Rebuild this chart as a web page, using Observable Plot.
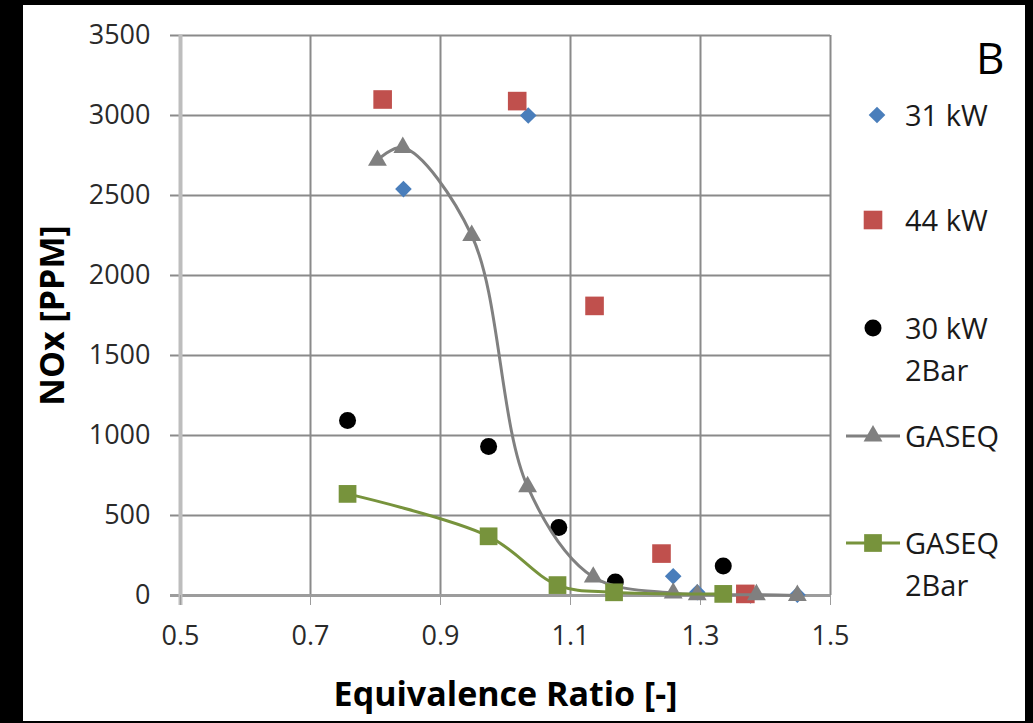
<!DOCTYPE html>
<html>
<head>
<meta charset="utf-8">
<script src="https://cdn.jsdelivr.net/npm/d3@7"></script>
<script src="https://cdn.jsdelivr.net/npm/@observablehq/plot@0.6"></script>
<style>
  html, body { margin: 0; padding: 0; background: #000; }
  #panel { position: absolute; left: 23px; top: 5px; width: 1002px; height: 716px; background: #fff; overflow: hidden; }
  #panel svg.chart { position: absolute; left: 0; top: 0; }
  .leg { position: absolute; font-family: "Open Sans", sans-serif; font-size: 29px; color: #1a1a1a; line-height: 42px; white-space: nowrap; }
  .sw { position: absolute; }
  #tag { position: absolute; font-family: "Open Sans", sans-serif; font-size: 44px; color: #000; line-height: 1; }
</style>
</head>
<body>
<div id="panel"></div>
<script>
// Axis ticks
const xTicks = [0.5, 0.7, 0.9, 1.1, 1.3, 1.5];
const yTicks = [0, 500, 1000, 1500, 2000, 2500, 3000, 3500];

// Measured NOx, 31 kW
const phi31 = [0.843, 1.035, 1.258, 1.295, 1.377, 1.449];
const nox31 = [2540, 3000, 120, 20, 0, 5];

// Measured NOx, 44 kW
const phi44 = [0.811, 1.018, 1.137, 1.240, 1.369];
const nox44 = [3100, 3090, 1810, 262, 10];

// Measured NOx, 30 kW at 2 bar
const phi30 = [0.757, 0.974, 1.082, 1.169, 1.335];
const nox30 = [1094, 931, 425, 85, 185];

// GASEQ equilibrium prediction
const phiGas = [0.803, 0.842, 0.948, 1.034, 1.135, 1.258, 1.295, 1.386, 1.449];
const noxGas = [2720, 2800, 2250, 680, 115, 15, 5, 5, 0];

// GASEQ equilibrium prediction at 2 bar
const phiGas2 = [0.757, 0.974, 1.080, 1.167, 1.335];
const noxGas2 = [635, 370, 65, 20, 10];

// Legend entries
const seriesNames = [["31 kW"], ["44 kW"], ["30 kW", "2Bar"], ["GASEQ"], ["GASEQ", "2Bar"]];
const seriesColors = ["#4a7ebb", "#c0504d", "#000000", "#808080", "#77933c"];

const table = (xs, ys) => xs.map((x, i) => ({phi: x, nox: ys[i]}));
const d31 = table(phi31, nox31);
const d44 = table(phi44, nox44);
const d30 = table(phi30, nox30);
const dGas = table(phiGas, noxGas);
const dGas2 = table(phiGas2, noxGas2);

const gridColor = "#8a8a8a";

const chart = Plot.plot({
  width: 1002,
  height: 716,
  marginLeft: 157,
  marginRight: 195,
  marginTop: 30,
  marginBottom: 126,
  style: {fontFamily: "Open Sans, sans-serif", fontSize: "27px", color: "#2a2a2a", background: "transparent"},
  x: {domain: [0.5, 1.5], label: "Equivalence Ratio [-]"},
  y: {domain: [0, 3500], label: "NOx [PPM]"},
  marks: [
    // grid
    Plot.ruleX(xTicks.slice(1), {stroke: gridColor, strokeWidth: 2}),
    Plot.ruleY(yTicks.slice(1), {stroke: gridColor, strokeWidth: 2, insetLeft: -10}),
    // axis lines
    Plot.ruleY([0], {stroke: "#9c9c9c", strokeWidth: 3, insetLeft: -10}),
    Plot.ruleX([0.5], {stroke: "#bdbdbd", strokeWidth: 4, insetBottom: -10}),
    Plot.axisX({ticks: xTicks, tickFormat: d => d.toFixed(1), tickSize: 10, tickPadding: 20, stroke: "#9c9c9c",
      labelAnchor: "center", labelOffset: 110, labelArrow: "none"}),
    Plot.axisY({ticks: yTicks, tickFormat: d => String(d), tickSize: 0, tickPadding: 30,
      labelAnchor: "center", labelOffset: 141, labelArrow: "none"}),
    // measurements
    Plot.dot(d31, {x: "phi", y: "nox", symbol: "diamond2", fill: seriesColors[0], stroke: "none", r: 7.5}),
    Plot.dot(d44, {x: "phi", y: "nox", symbol: "square", fill: seriesColors[1], stroke: "none", r: 10.5}),
    Plot.dot(d30, {x: "phi", y: "nox", symbol: "circle", fill: seriesColors[2], stroke: "none", r: 8.5}),
    // predictions
    Plot.line(dGas, {x: "phi", y: "nox", stroke: seriesColors[3], strokeWidth: 3, curve: "catmull-rom"}),
    Plot.dot(dGas, {x: "phi", y: "nox", symbol: "triangle", fill: seriesColors[3], stroke: "none", r: 7}),
    Plot.line(dGas2, {x: "phi", y: "nox", stroke: seriesColors[4], strokeWidth: 3, curve: "catmull-rom"}),
    Plot.dot(dGas2, {x: "phi", y: "nox", symbol: "square", fill: seriesColors[4], stroke: "none", r: 10})
  ]
});
chart.classList.add("chart");
const panel = document.getElementById("panel");
panel.appendChild(chart);

// Axis titles: bold, larger, no direction arrows
chart.querySelectorAll("g[aria-label='x-axis label'] text, g[aria-label='y-axis label'] text").forEach(t => {
  t.textContent = t.textContent.replace(/[\u2190-\u2193]/g, "").trim();
  t.setAttribute("font-weight", "bold");
  t.setAttribute("font-size", "34");
  t.setAttribute("fill", "#000");
});

// Legend on the right
const legTop = [110, 215, 323, 431, 538];
const swatchKinds = ["diamond2", "square", "circle", "triangle", "square"];
const swatchSizes = [7.5, 10.5, 8.5, 7, 10];
const hasLine = [false, false, false, true, true];
seriesNames.forEach((lines, i) => {
  const cy = legTop[i];
  const svg = d3.create("svg").attr("class", "sw").attr("width", 60).attr("height", 30)
    .style("left", "820px").style("top", (cy - 15) + "px");
  if (hasLine[i]) svg.append("line").attr("x1", 3).attr("x2", 57).attr("y1", 15).attr("y2", 15)
    .attr("stroke", seriesColors[i]).attr("stroke-width", 3);
  const sym = {diamond2: d3.symbolDiamond2, square: d3.symbolSquare, circle: d3.symbolCircle, triangle: d3.symbolTriangle}[swatchKinds[i]];
  svg.append("path").attr("transform", `translate(${i === 0 ? 34 : 30},15)`)
    .attr("d", d3.symbol(sym, Math.PI * swatchSizes[i] ** 2)())
    .attr("fill", seriesColors[i]);
  panel.appendChild(svg.node());
  const div = document.createElement("div");
  div.className = "leg";
  div.style.left = "882px";
  div.style.top = (cy - 21) + "px";
  div.innerHTML = lines.join("<br>");
  panel.appendChild(div);
});

const tag = document.createElement("div");
tag.id = "tag";
tag.textContent = "B";
tag.style.left = "953px";
tag.style.top = "30px";
panel.appendChild(tag);
</script>
</body>
</html>
